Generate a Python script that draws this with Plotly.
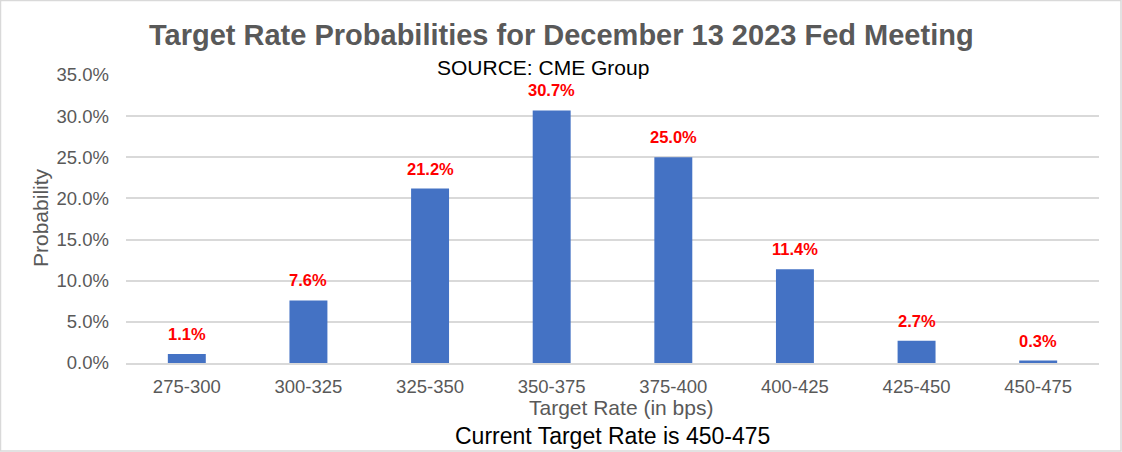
import plotly.graph_objects as go

categories = ["275-300", "300-325", "325-350", "350-375", "375-400", "400-425", "425-450", "450-475"]
probabilities = [1.1, 7.6, 21.2, 30.7, 25.0, 11.4, 2.7, 0.3]
y_ticks = [0, 5, 10, 15, 20, 25, 30, 35]
y_tick_labels = [f"{v:.1f}%" for v in y_ticks]

title_text = "Target Rate Probabilities for December 13 2023 Fed Meeting"
source_text = "SOURCE: CME Group"
footer_text = "Current Target Rate is 450-475"
x_title = "Target Rate (in bps)"
y_title = "Probability"

FONT = "Liberation Sans, Arial, sans-serif"
GRAY = "#595959"

W, H = 1122, 452
L, R, T, B = 126, 23, 75, 89
PW, PH = W - L - R, H - T - B

def px_x(px):
    return (px - L) / PW

def px_y(py):
    return (H - B - py) / PH

fig = go.Figure()
fig.add_trace(go.Bar(
    x=categories, y=probabilities,
    marker=dict(color="#4472C4", line=dict(width=0)),
    width=0.312,
    hoverinfo="skip",
))

for c, v in zip(categories, probabilities):
    fig.add_annotation(
        x=c, y=v, xref="x", yref="y",
        text=f"<b>{v:.1f}%</b>", showarrow=False,
        yshift=20, font=dict(family=FONT, size=16.5, color="#FF0000"),
    )

fig.add_annotation(
    x=px_x(561), y=px_y(35), xref="paper", yref="paper", xanchor="center", yanchor="middle",
    text=f"<b>{title_text}</b>", showarrow=False,
    font=dict(family=FONT, size=29, color=GRAY),
)
fig.add_annotation(
    x=px_x(543), y=px_y(67), xref="paper", yref="paper", xanchor="center", yanchor="middle",
    text=source_text, showarrow=False,
    font=dict(family=FONT, size=21, color="#000000"),
)
fig.add_annotation(
    x=px_x(612), y=px_y(436), xref="paper", yref="paper", xanchor="center", yanchor="middle",
    text=footer_text, showarrow=False,
    font=dict(family=FONT, size=23, color="#000000"),
)
fig.add_annotation(
    x=px_x(621), y=px_y(407), xref="paper", yref="paper", xanchor="center", yanchor="middle",
    text=x_title, showarrow=False,
    font=dict(family=FONT, size=21, color=GRAY),
)
fig.add_annotation(
    x=px_x(40), y=px_y(218), xref="paper", yref="paper", xanchor="center", yanchor="middle",
    text=y_title, showarrow=False, textangle=-90,
    font=dict(family=FONT, size=21, color=GRAY),
)

fig.update_layout(
    width=W, height=H,
    margin=dict(l=L, r=R, t=T, b=B, pad=0),
    paper_bgcolor="white", plot_bgcolor="white",
    showlegend=False,
    xaxis=dict(
        showgrid=False, showline=True, linecolor="#d9d9d9", linewidth=1.5,
        ticks="", tickfont=dict(family=FONT, size=18.5, color=GRAY),
        ticklabelstandoff=6,
    ),
    yaxis=dict(
        range=[0, 35], tickvals=y_ticks, ticktext=y_tick_labels,
        showgrid=True, gridcolor="#d9d9d9", gridwidth=1.5,
        zeroline=False, showline=False, ticks="",
        tickfont=dict(family=FONT, size=18.5, color=GRAY),
        ticklabelstandoff=16,
    ),
)
fig.add_shape(type="rect", xref="paper", yref="paper",
              x0=px_x(0.5), y0=px_y(H - 1), x1=px_x(W - 1), y1=px_y(0.5),
              line=dict(color="#d9d9d9", width=1.5), layer="below")

fig.write_html("out.html", config={"displayModeBar": False},
               post_script="document.body.style.margin='0';")
